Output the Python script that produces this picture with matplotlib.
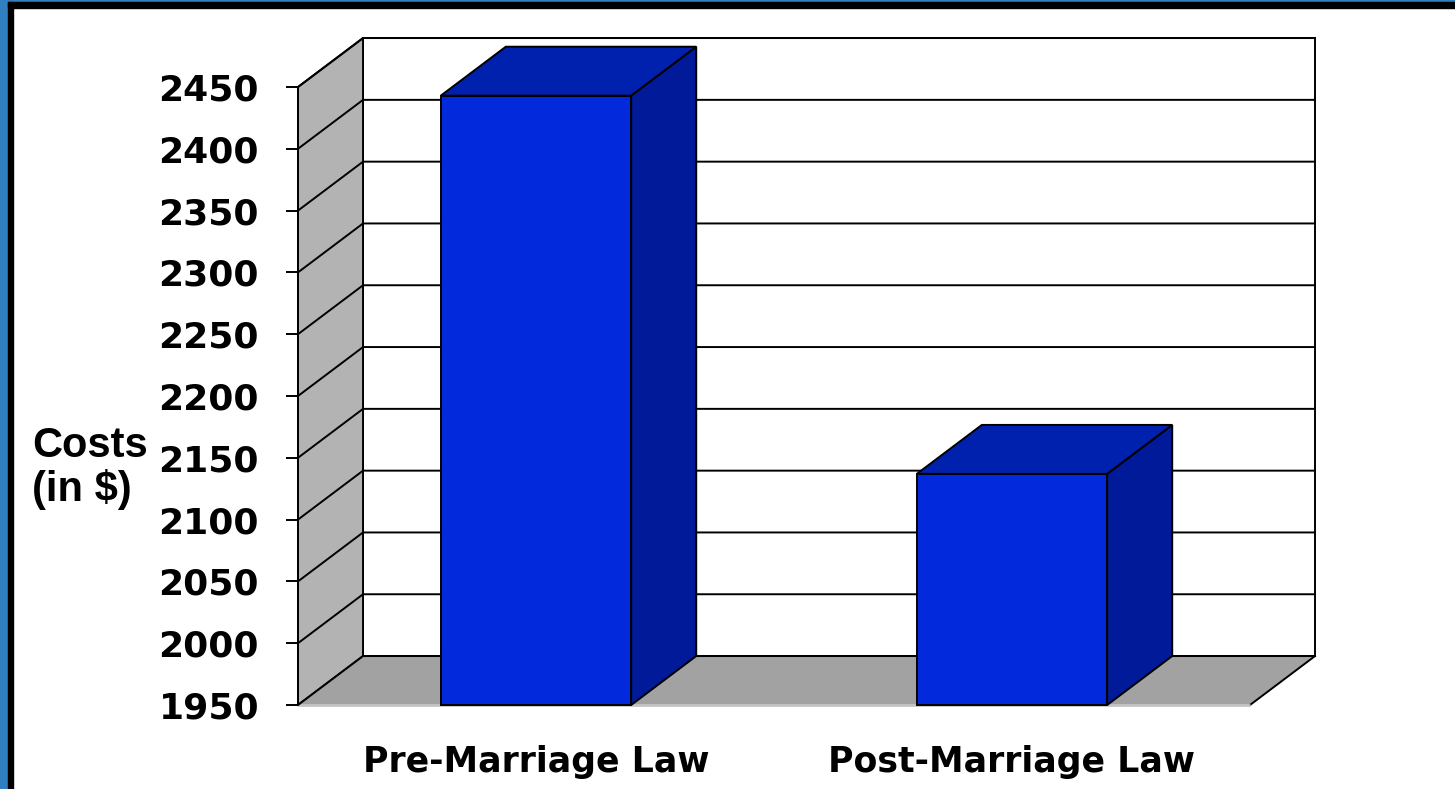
import matplotlib
matplotlib.use("Agg")
import matplotlib.pyplot as plt
from matplotlib.patches import Polygon, Rectangle

# ---- data ----
categories = ["Pre-Marriage Law", "Post-Marriage Law"]
costs = [2443, 2137]
y_ticks = [1950, 2000, 2050, 2100, 2150, 2200, 2250, 2300, 2350, 2400, 2450]
y_label = "Costs\n(in $)"

# ---- style / layout ----
W, H, DPI = 1455, 789, 100
BAR_W = 0.4
DX = 0.1366      # depth in x data units
DY = 39.6        # depth in y data units
FRONT = "#0329dc"
TOP = "#0021ad"
SIDE = "#001a9a"
WALL = "#b3b3b3"
FLOOR = "#a2a2a2"
EDGE = "black"
LW = 1.4

fig = plt.figure(figsize=(W / DPI, H / DPI), dpi=DPI, facecolor="white")

# frame: blue outer border, black inner line (top & left visible)
def px_rect(x0, y0, x1, y1, color):
    fig.patches.append(Rectangle((x0 / W, 1 - y1 / H), (x1 - x0) / W, (y1 - y0) / H,
                                 transform=fig.transFigure, color=color, zorder=0))
px_rect(0, 0, 7.5, H, "#2f7fc1")
px_rect(0, 0, W, 2.3, "#2f7fc1")
px_rect(7.5, 2.3, 12.5, H, "black")
px_rect(7.5, 2.3, W, 7.5, "black")

ax = fig.add_axes([298 / W, 84 / H, 952 / W, 618 / H])
ax.set_xlim(-0.5, 1.5)
ymin, ymax = y_ticks[0], y_ticks[-1]
ax.set_ylim(ymin, ymax)
ax.patch.set_visible(False)
for s in ["top", "right", "bottom"]:
    ax.spines[s].set_visible(False)
ax.spines["left"].set_linewidth(LW)
ax.spines["left"].set_zorder(20)

x0, x1 = -0.5, 1.5

def poly(pts, fc, z, ec=EDGE, lw=LW):
    p = Polygon(pts, closed=True, facecolor=fc, edgecolor=ec, linewidth=lw,
                clip_on=False, zorder=z, joinstyle="miter")
    ax.add_patch(p)

# back wall
poly([(x0 + DX, ymin + DY), (x1 + DX, ymin + DY), (x1 + DX, ymax + DY), (x0 + DX, ymax + DY)],
     "white", 1)
# left wall
poly([(x0, ymin), (x0 + DX, ymin + DY), (x0 + DX, ymax + DY), (x0, ymax)], WALL, 2)
# floor
poly([(x0, ymin), (x1, ymin), (x1 + DX, ymin + DY), (x0 + DX, ymin + DY)], FLOOR, 2, ec="none")
ax.plot([x1, x1 + DX], [ymin, ymin + DY], color=EDGE, lw=LW, clip_on=False, zorder=3)
ax.plot([x0, x1], [ymin, ymin], color="#c4c4c4", lw=2.0, clip_on=False, zorder=3,
        solid_capstyle="butt")

# gridlines on walls
for t in y_ticks:
    ax.plot([x0, x0 + DX, x1 + DX], [t, t + DY, t + DY], color=EDGE, lw=LW,
            clip_on=False, zorder=3, solid_joinstyle="miter")

# bars
for i, v in enumerate(costs):
    l, r = i - BAR_W / 2, i + BAR_W / 2
    poly([(r, ymin), (r + DX, ymin + DY), (r + DX, v + DY), (r, v)], SIDE, 5)
    poly([(l, v), (r, v), (r + DX, v + DY), (l + DX, v + DY)], TOP, 5)
    poly([(l, ymin), (r, ymin), (r, v), (l, v)], FRONT, 6)

# ticks
ax.set_yticks(y_ticks)
ax.set_yticklabels([str(t) for t in y_ticks])
ax.tick_params(axis="y", direction="out", length=9, width=LW, pad=19,
               labelsize=26)
for lab in ax.get_yticklabels():
    lab.set_fontweight("bold")

ax.set_xticks(range(len(categories)))
ax.set_xticklabels(categories)
ax.tick_params(axis="x", length=0, pad=29, labelsize=25)
for lab in ax.get_xticklabels():
    lab.set_fontweight("bold")

fig.text(32 / W, 1 - 468 / H, y_label, ha="left", va="center",
         fontsize=30, fontweight="bold", family="Liberation Sans", linespacing=1.12)

fig.savefig("out.png", dpi=DPI)
